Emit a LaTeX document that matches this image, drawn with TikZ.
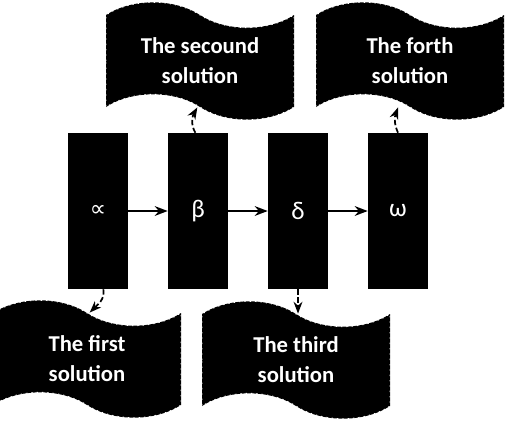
\documentclass[tikz,border=0pt]{standalone}
\usepackage{fontspec}
\setmainfont{Carlito}
\newfontfamily\symfont{DejaVu Sans}
\usetikzlibrary{shapes.symbols,arrows.meta}

\begin{document}
\begin{tikzpicture}[
        x=0.75pt, y=-0.75pt,
        >=Stealth, % arrow style
        block/.style={rectangle, fill=black, inner sep=0pt,
            minimum width=45pt, minimum height=117pt,
            text=white, font=\fontsize{19}{21}\selectfont}, % Greek boxes
        banner/.style={tape, fill=black, draw=white, line width=0.6pt,
            dash pattern=on 1pt off 3pt, tape bend height=19pt,
            tape bend top=out and in, tape bend bottom=out and in,
            minimum width=141pt, minimum height=88pt, inner sep=2pt,
            text=white, align=center,
            font=\bfseries\fontsize{17}{22.5}\selectfont}, % wavy solution flags
        link/.style={->, line width=1.3pt, dash pattern=on 4pt off 2pt}
    ]
    \useasboundingbox (0,0) rectangle (505,425);

    % the four steps
    \node[block] (alpha) at (98,211) {{\symfont\fontsize{17}{21}\selectfont ∝}};
    \node[block] (beta) at (198,211) {β};
    \node[block] (delta) at (298,211) {δ};
    \node[block] (omega) at (398,211) {ω};

    \draw[->, line width=1.5pt] (alpha) -- (beta);
    \draw[->, line width=1.5pt] (beta) -- (delta);
    \draw[->, line width=1.5pt] (delta) -- (omega);

    % the solutions
    \node[banner] (second) at (200,61) {The secound\\solution};
    \node[banner] (fourth) at (410,61) {The forth\\solution};
    \node[banner] (first) at (87,359) {The first\\solution};
    \node[banner] (third) at (296,360) {The third\\solution};

    \draw[link] ([xshift=-2pt]beta.north) to[out=120, in=-120] ([xshift=-2pt]second.south);
    \draw[link] (omega.north) to[out=115, in=-110] ([xshift=-9pt]fourth.south);
    \draw[link] ([xshift=4pt]alpha.south) to[out=-80, in=45] ([xshift=2pt]first.north);
    \draw[link] (delta.south) -- (delta.south |- third.north);

\end{tikzpicture}
\end{document}
